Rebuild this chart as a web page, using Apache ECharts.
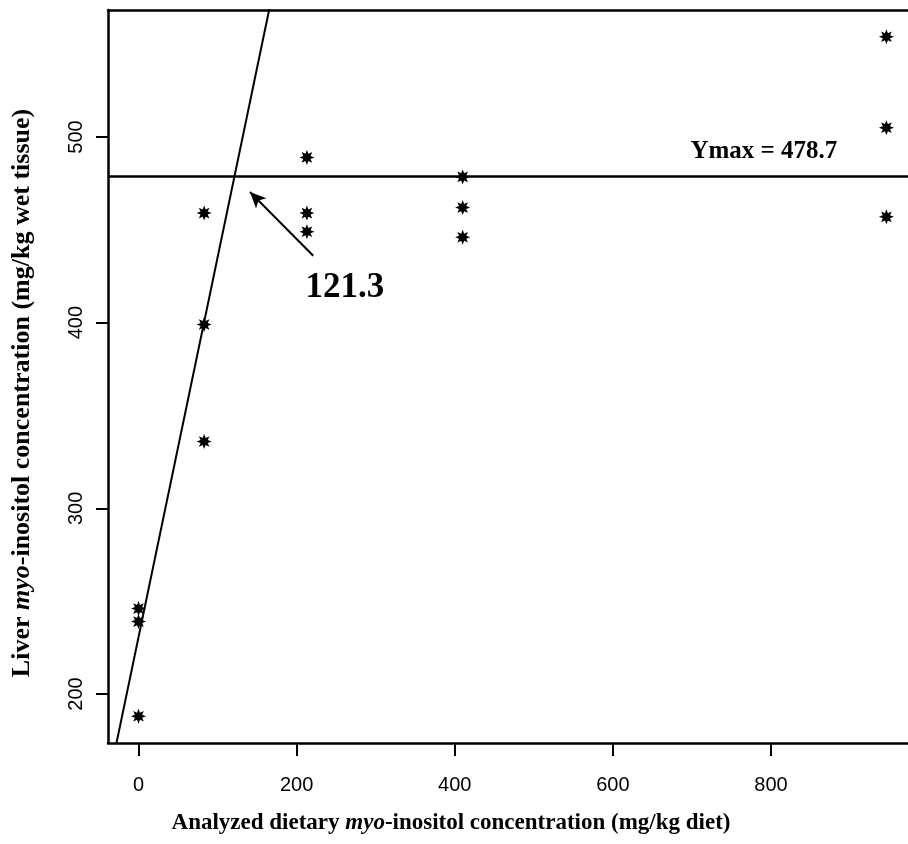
<!DOCTYPE html>
<html><head><meta charset="utf-8">
<script src="https://cdn.jsdelivr.net/npm/echarts@6/dist/echarts.min.js"></script>
<style>html,body{margin:0;padding:0;background:#fff}#c{width:908px;height:844px}</style>
</head><body><div id="c"></div>
<script>
// ---- data ----
const dietLevels = [0, 83, 213, 410, 946];          // analyzed dietary myo-inositol (mg/kg diet)
const liverRep1 = [246, 459, 489, 478.5, 554];      // liver myo-inositol (mg/kg wet tissue)
const liverRep2 = [239, 399, 459, 462, 505];
const liverRep3 = [188, 336, 449, 446, 457];
const xTicks = [0, 200, 400, 600, 800];
const yTicks = [200, 300, 400, 500];
const yMax = 478.7;            // plateau
const breakPoint = 121.3;      // break-point
const lineIntercept = 230.6;   // ascending line
const lineSlope = 2.045;
const xRange = [-38.6, 973.3];
const yRange = [173.6, 568.4];
const arrowFrom = [221, 436];
const arrowTo = [141, 470.4];
const ymaxLabelAt = [791, 492];
const breakLabelAt = [261, 418.7];

// ---- build ----
const points = [];
[liverRep1, liverRep2, liverRep3].forEach(rep => rep.forEach((v, i) => points.push([dietLevels[i], v])));

const lineEndX = (yRange[1] - lineIntercept) / lineSlope + 30;
const riseLine = [
  [xRange[0], lineIntercept + lineSlope * xRange[0]],
  [lineEndX, lineIntercept + lineSlope * lineEndX]
];

// 8-point asterisk symbol path
function starPath() {
  let d = '';
  for (let k = 0; k < 16; k++) {
    const a = k * Math.PI / 8;
    const r = (k % 2 === 0) ? 1 : 0.52;
    const x = (1 + r * Math.cos(a)) * 50, y = (1 + r * Math.sin(a)) * 50;
    d += (k === 0 ? 'M' : 'L') + x.toFixed(2) + ' ' + y.toFixed(2) + ' ';
  }
  return 'path://' + d + 'Z';
}

const tickFont = { color: '#000', fontFamily: 'Liberation Sans', fontSize: 20 };
const chart = echarts.init(document.getElementById('c'), null, { renderer: 'canvas' });
chart.setOption({
  animation: false,
  backgroundColor: '#fff',
  grid: { left: 108, right: 0, top: 10, bottom: 101, containLabel: false, outerBoundsMode: 'none' },
  xAxis: [{
    type: 'value', min: xRange[0], max: xRange[1], position: 'bottom',
    axisLine: { show: true, onZero: false, lineStyle: { color: '#000', width: 2.5 } },
    axisTick: { show: true, length: 13, customValues: xTicks, lineStyle: { color: '#000', width: 2 } },
    axisLabel: { customValues: xTicks, margin: 32, ...tickFont },
    splitLine: { show: false }
  }, {
    type: 'value', min: xRange[0], max: xRange[1], position: 'top',
    axisLine: { show: true, onZero: false, lineStyle: { color: '#000', width: 2.5 } },
    axisTick: { show: false }, axisLabel: { show: false }, splitLine: { show: false }
  }],
  yAxis: {
    type: 'value', min: yRange[0], max: yRange[1],
    axisLine: { show: true, onZero: false, lineStyle: { color: '#000', width: 2.5 } },
    axisTick: { show: true, length: 12, customValues: yTicks, lineStyle: { color: '#000', width: 2 } },
    axisLabel: { customValues: yTicks, rotate: 90, margin: 22, ...tickFont },
    splitLine: { show: false }
  },
  series: [{
    type: 'line', data: riseLine, showSymbol: false, symbol: 'none', clip: true,
    lineStyle: { color: '#000', width: 2 },
    markLine: {
      silent: true, symbol: 'none', animation: false,
      label: { show: false },
      lineStyle: { color: '#000', width: 2.5, type: 'solid' },
      data: [{ yAxis: yMax }]
    }
  }, {
    type: 'line', data: [arrowFrom, arrowTo], showSymbol: false, symbol: 'none',
    lineStyle: { width: 0 },
    markLine: {
      silent: true, symbol: ['none', 'arrow'], symbolSize: [11, 16], animation: false,
      label: { show: false },
      lineStyle: { color: '#000', width: 2, type: 'solid' },
      data: [[{ coord: arrowFrom }, { coord: arrowTo }]]
    }
  }, {
    type: 'scatter', data: points, symbol: starPath(), symbolSize: 15,
    itemStyle: { color: '#000', opacity: 1 }
  }]
});

// annotations and axis titles as real text, placed from data coordinates
const pYmax = chart.convertToPixel({ gridIndex: 0 }, ymaxLabelAt);
const pBreak = chart.convertToPixel({ gridIndex: 0 }, breakLabelAt);
chart.setOption({
  graphic: [{
    id: 'xTitle', type: 'text', x: 451, y: 823,
    style: {
      text: 'Analyzed dietary {i|myo}-inositol concentration (mg/kg diet)',
      fill: '#000', font: 'bold 23px "Liberation Serif"', align: 'center', verticalAlign: 'middle',
      rich: { i: { fontStyle: 'italic', fontWeight: 'bold', fontSize: 23, fontFamily: 'Liberation Serif' } }
    }
  }, {
    id: 'yTitle', type: 'text', x: 22, y: 393, rotation: Math.PI / 2,
    style: {
      text: 'Liver {i|myo}-inositol concentration (mg/kg wet tissue)',
      fill: '#000', font: 'bold 26px "Liberation Serif"', align: 'center', verticalAlign: 'middle',
      rich: { i: { fontStyle: 'italic', fontWeight: 'bold', fontSize: 26, fontFamily: 'Liberation Serif' } }
    }
  }, {
    id: 'ymaxText', type: 'text', x: pYmax[0], y: pYmax[1],
    style: { text: 'Ymax = ' + yMax, fill: '#000', font: 'bold 25px "Liberation Serif"', align: 'center', verticalAlign: 'middle' }
  }, {
    id: 'breakText', type: 'text', x: pBreak[0], y: pBreak[1],
    style: { text: String(breakPoint), fill: '#000', font: 'bold 35px "Liberation Serif"', align: 'center', verticalAlign: 'middle' }
  }]
});
</script></body></html>
